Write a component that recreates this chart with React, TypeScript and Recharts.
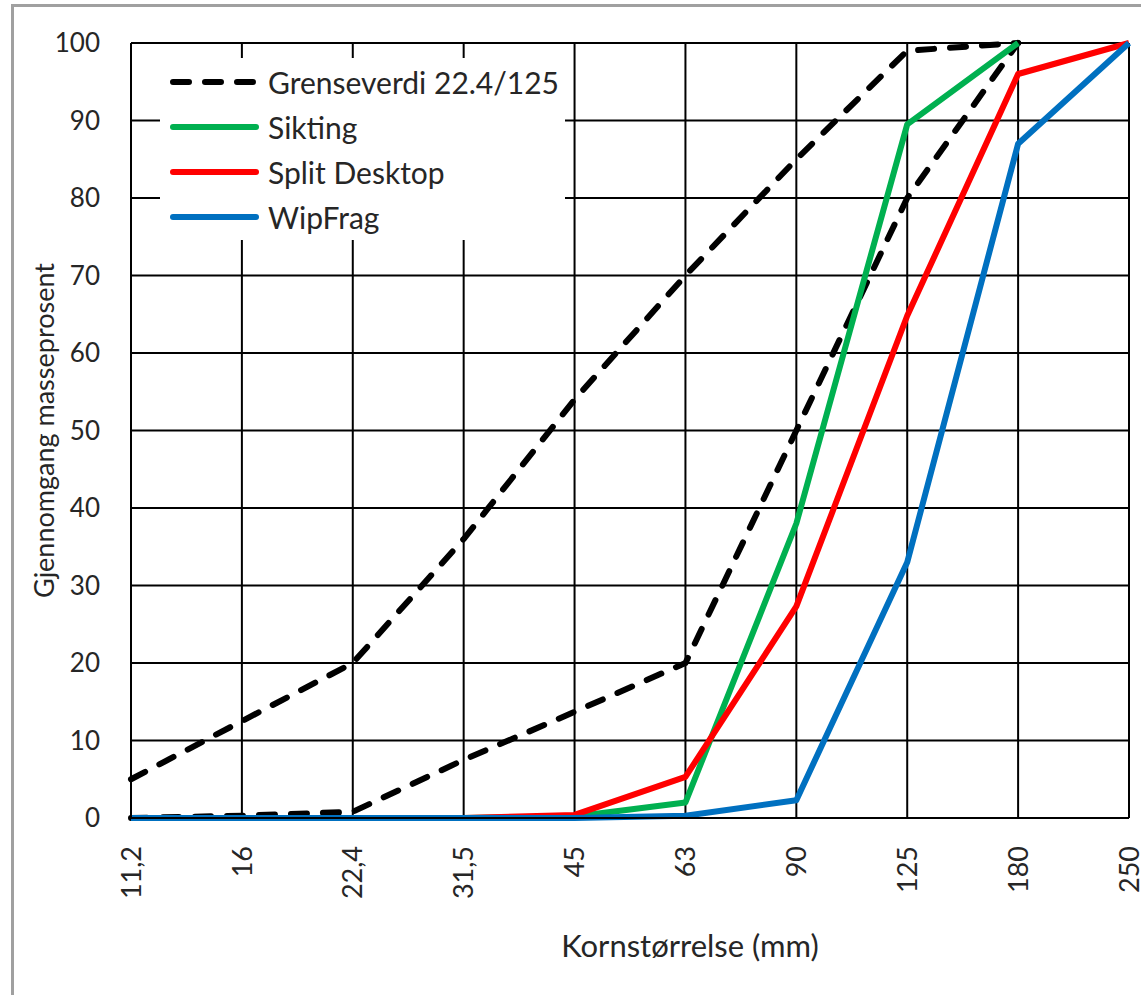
import React from 'react';
import { LineChart, Line, XAxis, YAxis, CartesianGrid, Legend, Label } from 'recharts';

const categories = ['11,2', '16', '22,4', '31,5', '45', '63', '90', '125', '180', '250'];
const upperLimit = [5, 12.5, 20, 36, 54, 70, 85, 99, 100, null];
const lowerLimit = [0, 0.3, 0.8, 7.5, 13.7, 20, 50, 80, 100, null];
const sikting = [0, 0, 0, 0, 0.2, 2, 38, 89.5, 100, null];
const splitDesktop = [0, 0, 0, 0, 0.4, 5.3, 27.3, 64.8, 96, 100];
const wipFrag = [0, 0, 0, 0, 0, 0.3, 2.3, 33, 87, 100];
const yTicks = [0, 10, 20, 30, 40, 50, 60, 70, 80, 90, 100];

const legendItems = [
  { name: 'Grenseverdi 22.4/125', color: '#000000', dashed: true },
  { name: 'Sikting', color: '#00B050', dashed: false },
  { name: 'Split Desktop', color: '#FF0000', dashed: false },
  { name: 'WipFrag', color: '#0070C0', dashed: false },
];

const data = categories.map((c, i) => ({
  size: c,
  upper: upperLimit[i],
  lower: lowerLimit[i],
  sikting: sikting[i],
  split: splitDesktop[i],
  wip: wipFrag[i],
}));

const FONT = 'Lato, "Open Sans", sans-serif';
const TEXT_COLOR = '#262626';

const XTick = (props: any) => {
  const { x, y, payload } = props;
  return (
    <text
      x={x}
      y={y}
      transform={`rotate(-90 ${x} ${y})`}
      textAnchor="end"
      dy="0.36em"
      fontSize={27}
      fontFamily={FONT}
      fill={TEXT_COLOR}
    >
      {payload.value}
    </text>
  );
};

const LegendContent = () => (
  <div style={{ width: '100%', height: '100%', background: '#fff', position: 'relative' }}>
    {legendItems.map((it, i) => (
      <div
        key={it.name}
        style={{
          position: 'absolute',
          left: 0,
          top: 2 + i * 45,
          height: 44,
          display: 'flex',
          alignItems: 'center',
        }}
      >
        <svg width={108} height={44} style={{ display: 'block' }}>
          <line
            x1={13}
            x2={96}
            y1={22}
            y2={22}
            stroke={it.color}
            strokeWidth={6}
            strokeLinecap="round"
            strokeDasharray={it.dashed ? '16 16' : undefined}
          />
        </svg>
        <span style={{ fontFamily: FONT, fontSize: 30, color: TEXT_COLOR, whiteSpace: 'nowrap', lineHeight: '44px' }}>
          {it.name}
        </span>
      </div>
    ))}
  </div>
);

export default function App() {
  return (
    <div style={{ position: 'absolute', left: 0, top: 0, width: 1141, height: 995, background: '#fff' }}>
      <div
        style={{
          position: 'absolute',
          left: 11,
          top: 4,
          width: 1200,
          height: 1100,
          borderLeft: '3px solid #a0a0a0',
          borderTop: '3px solid #a0a0a0',
          pointerEvents: 'none',
        }}
      />
      <LineChart
        width={1141}
        height={995}
        data={data}
        margin={{ top: 43, right: 12, bottom: 0, left: 0 }}
        style={{ fontFamily: FONT }}
      >
        <CartesianGrid stroke="#000" strokeWidth={2} />
        <XAxis
          dataKey="size"
          interval={0}
          height={177}
          tick={<XTick />}
          tickLine={false}
          tickSize={0}
          tickMargin={28}
          axisLine={{ stroke: '#000', strokeWidth: 2 }}
          padding={{ left: 0, right: 0 }}
        >
          <Label
            content={(p: any) => {
              const vb = p.viewBox;
              const cx = vb.x + vb.width / 2 + 60;
              const cy = vb.y + 127;
              return (
                <text x={cx} y={cy} textAnchor="middle" dominantBaseline="central" fontSize={31} fontFamily={FONT} fill={TEXT_COLOR}>
                  Kornstørrelse (mm)
                </text>
              );
            }}
          />
        </XAxis>
        <YAxis
          type="number"
          domain={[0, 100]}
          ticks={yTicks}
          interval={0}
          width={131}
          tickLine={false}
          tickSize={0}
          tickMargin={31}
          axisLine={{ stroke: '#000', strokeWidth: 2 }}
          tick={{ fontSize: 26, fontFamily: FONT, fill: TEXT_COLOR }}
        >
          <Label
            content={(p: any) => {
              const vb = p.viewBox;
              const cx = vb.x + 43;
              const cy = vb.y + vb.height / 2;
              return (
                <text
                  x={cx}
                  y={cy}
                  transform={`rotate(-90 ${cx} ${cy})`}
                  textAnchor="middle"
                  dominantBaseline="central"
                  fontSize={27}
                  fontFamily={FONT}
                  fill={TEXT_COLOR}
                >
                  Gjennomgang masseprosent
                </text>
              );
            }}
          />
        </YAxis>
        <Legend
          layout="vertical"
          align="center"
          verticalAlign="middle"
          content={<LegendContent />}
          wrapperStyle={{ left: 160, top: 58, width: 405, height: 182 }}
        />
        <Line dataKey="upper" name="Grenseverdi 22.4/125" type="linear" stroke="#000" strokeWidth={6} strokeDasharray="16 16" strokeLinecap="round" dot={false} isAnimationActive={false} />
        <Line dataKey="lower" name="Grenseverdi 22.4/125 (nedre)" type="linear" stroke="#000" strokeWidth={6} strokeDasharray="16 16" strokeLinecap="round" dot={false} isAnimationActive={false} legendType="none" />
        <Line dataKey="sikting" name="Sikting" type="linear" stroke="#00B050" strokeWidth={6} strokeLinejoin="round" dot={false} isAnimationActive={false} />
        <Line dataKey="split" name="Split Desktop" type="linear" stroke="#FF0000" strokeWidth={6} strokeLinejoin="round" dot={false} isAnimationActive={false} />
        <Line dataKey="wip" name="WipFrag" type="linear" stroke="#0070C0" strokeWidth={6} strokeLinejoin="round" dot={false} isAnimationActive={false} />
      </LineChart>
    </div>
  );
}
